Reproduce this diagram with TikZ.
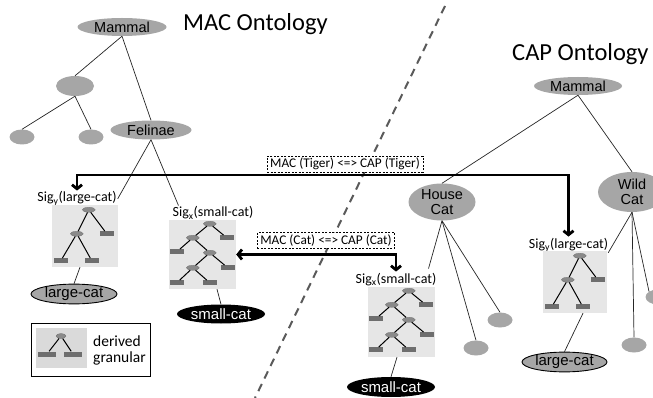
\documentclass[tikz,border=0pt]{standalone}
\usepackage{fontspec}
\setmainfont{Liberation Sans}
\newfontfamily\carl{Carlito}
\usetikzlibrary{shapes.geometric,arrows.meta,calc}
\definecolor{ell}{HTML}{A6A6A6}
\definecolor{minibg}{HTML}{E6E6E6}
\definecolor{legbg}{HTML}{DADADA}
\definecolor{mnode}{HTML}{8A8A8A}
\definecolor{mnodeD}{HTML}{6E6E6E}
\definecolor{dashc}{HTML}{5A5A5A}
\begin{document}
\begin{tikzpicture}[x=1pt,y=-1pt,
  ont/.style={ellipse, fill=ell, inner sep=0pt, font=\fontsize{14.5}{15}\selectfont},
  leaf/.style={ellipse, fill=ell, inner sep=0pt, minimum width=25pt, minimum height=15pt},
  catnode/.style={ellipse, fill=ell, draw=black, line width=0.9pt, inner sep=0pt, font=\fontsize{15}{16}\selectfont},
  smallcat/.style={ellipse, fill=black, text=white, inner sep=0pt, font=\fontsize{15}{16}\selectfont},
  titletxt/.style={inner sep=0pt, font=\carl\fontsize{24.5}{28}\selectfont},
  siglbl/.style={inner sep=1pt, font=\carl\fontsize{14}{15}\selectfont},
  legtxt/.style={inner sep=0pt, font=\carl\fontsize{15.5}{16}\selectfont},
  minibox/.style={rectangle, fill=minibg, inner sep=0pt},
  mininode/.style={ellipse, fill=mnode, draw=mnodeD, line width=0.3pt, minimum width=13pt, minimum height=5pt, inner sep=0pt},
  minirect/.style={rectangle, fill=mnodeD, minimum width=14pt, minimum height=5pt, inner sep=0pt},
  miniedge/.style={line width=1pt, black},
  treeline/.style={line width=0.7pt, black!85},
  bigarrow/.style={line width=2.8pt, black, {Straight Barb[length=4pt,width=10pt]}-{Straight Barb[length=4pt,width=10pt]}},
  lblbox/.style={draw, dashed, dash pattern=on 2pt off 1.5pt, line width=0.6pt, fill=white, inner xsep=3pt, inner ysep=2pt, font=\carl\fontsize{13.3}{14}\selectfont},
  dashline/.style={line width=2pt, dashc, dash pattern=on 8pt off 6pt},
  largetree/.pic={
    \node[mininode] (-r) at (37,5) {};
    \node[mininode] (-a) at (25,29) {};
    \node[minirect] (-b) at (55,29) {};
    \node[minirect] (-c) at (9,56) {};
    \node[minirect] (-d) at (40,56) {};
    \draw[miniedge] (-r) -- (-a);
    \draw[miniedge] (-r) -- (-b);
    \draw[miniedge] (-a) -- (-c);
    \draw[miniedge] (-a) -- (-d);
  },
  smalltree/.pic={
    \node[mininode] (-r) at (41,4) {};
    \node[mininode] (-a) at (24,18) {};
    \node[minirect] (-b) at (58,18) {};
    \node[minirect] (-c) at (8,32) {};
    \node[mininode] (-d) at (41,33) {};
    \node[minirect] (-e) at (59,48) {};
    \node[mininode] (-f) at (24,48) {};
    \node[minirect] (-g) at (8,63) {};
    \node[minirect] (-h) at (41,63) {};
    \draw[miniedge] (-r) -- (-a);
    \draw[miniedge] (-r) -- (-b);
    \draw[miniedge] (-a) -- (-c);
    \draw[miniedge] (-a) -- (-d);
    \draw[miniedge] (-d) -- (-e);
    \draw[miniedge] (-d) -- (-f);
    \draw[miniedge] (-f) -- (-g);
    \draw[miniedge] (-f) -- (-h);
  }]
\useasboundingbox (0,0) rectangle (653,398);
\fill[white] (0,0) rectangle (653,398);

% divider
\coordinate (dTop) at (445,6);
\coordinate (dBot) at (255,398);
\draw[dashline] (dTop) -- (dBot);

% ---------- MAC ontology ----------
\node[titletxt, anchor=base west] (macTitle) at (183,31) {MAC Ontology};
\node[ont, minimum width=89pt, minimum height=18pt] (mMammal) at (122,27) {Mammal};
\node[ont, minimum width=38pt, minimum height=20pt] (mBlank) at (75,86) {};
\node[leaf] (mLeafA) at (22,137) {};
\node[leaf] (mLeafB) at (91,137) {};
\node[ont, minimum width=81pt, minimum height=19pt] (mFelinae) at (151,130) {Felinae};

\node[siglbl, anchor=base] (mSigY) at (77,202) {Sig\textsubscript{y}(large-cat)};
\node[minibox, minimum width=66pt, minimum height=62pt] (mBoxY) at (85,236) {};
\pic (mTreeY) at (mBoxY.north west) {largetree};
\node[catnode, minimum width=86pt, minimum height=18pt] (mLarge) at (74,294) {large-cat};

\node[siglbl, anchor=base] (mSigX) at (213,217) {Sig\textsubscript{x}(small-cat)};
\node[minibox, minimum width=67pt, minimum height=69pt] (mBoxX) at (202.5,254.5) {};
\pic (mTreeX) at (mBoxX.north west) {smalltree};
\node[smallcat, minimum width=88pt, minimum height=19pt] (mSmall) at (221,314) {small-cat};

\draw[treeline] (mMammal.south) -- (mBlank.north);
\draw[treeline] (mMammal.south) -- (mFelinae.north);
\draw[treeline] (mBlank.south) -- (mLeafA.north);
\draw[treeline] (mBlank.south) -- (mLeafB.north);
\draw[treeline] (mFelinae.south) -- (mSigY.east);
\draw[treeline] (mFelinae.south) -- ($(mSigX.north west)+(7,0)$);
\draw[treeline] ([xshift=-5pt]mBoxY.south) -- (mLarge.north);
\draw[treeline] ([xshift=14.5pt]mBoxX.south) -- (mSmall.north);

% legend
\node[draw, line width=0.8pt, minimum width=119pt, minimum height=53pt, inner sep=0pt] (legend) at (90.5,349.5) {};
\node[minibox, fill=legbg, minimum width=51pt, minimum height=40pt] (legImg) at (61.5,348) {};
\node[mininode, minimum width=10pt] (legRoot) at (61,336) {};
\node[minirect, minimum width=18pt] (legA) at (47,354) {};
\node[minirect, minimum width=18pt] (legB) at (73,354) {};
\draw[miniedge] (legRoot) -- (legA);
\draw[miniedge] (legRoot) -- (legB);
\node[legtxt, anchor=base west] (legT1) at (93,346) {derived};
\node[legtxt, anchor=base west] (legT2) at (93,362) {granular};

% ---------- CAP ontology ----------
\node[titletxt, anchor=base west] (capTitle) at (512,61) {CAP Ontology};
\node[ont, minimum width=88pt, minimum height=18pt] (cMammal) at (578,86) {Mammal};
\node[ont, align=center, minimum width=67pt, minimum height=37pt, inner ysep=-2pt] (cHouse) at (442,202) {House\\Cat};
\node[ont, align=center, minimum width=68pt, minimum height=40pt, inner ysep=-2pt] (cWild) at (632,192) {Wild\\Cat};
\node[leaf] (cLeafA) at (476,348) {};
\node[leaf] (cLeafB) at (500,320) {};
\node[leaf] (cLeafC) at (634,345) {};
\node[leaf] (cLeafD) at (658,297) {};

\node[siglbl, anchor=base] (cSigX) at (396,283) {Sig\textsubscript{x}(small-cat)};
\node[minibox, minimum width=67pt, minimum height=70pt] (cBoxX) at (401.5,322) {};
\pic (cTreeX) at (cBoxX.north west) {smalltree};
\node[smallcat, minimum width=88pt, minimum height=20pt] (cSmall) at (391,387) {small-cat};

\node[siglbl, anchor=base] (cSigY) at (568.5,248) {Sig\textsubscript{y}(large-cat)};
\node[minibox, minimum width=64pt, minimum height=62pt] (cBoxY) at (575,282) {};
\pic (cTreeY) at (cBoxY.north west) {largetree};
\node[catnode, minimum width=85pt, minimum height=17pt] (cLarge) at (564.5,362) {large-cat};

\draw[treeline] (cMammal.south) -- (cHouse.north);
\draw[treeline] (cMammal.south) -- (cWild.north);
\draw[treeline] (cHouse.south) -- ($(cSigX.north east)+(-9,-3)$);
\draw[treeline] (cHouse.south) -- (cLeafA.north);
\draw[treeline] (cHouse.south) -- (cLeafB.north);
\draw[treeline] (cWild.south) -- ($(cBoxY.north east)+(1,2)$);
\draw[treeline] (cWild.south) -- (cLeafC.north);
\draw[treeline] (cWild.south) -- (cLeafD.north west);
\draw[treeline] ([xshift=-4.5pt]cBoxX.south) -- (cSmall.north);
\draw[treeline] ([xshift=8pt]cBoxY.south) -- (cLarge.north);

% ---------- mappings ----------
\coordinate (tigerL) at (77,175);
\draw[bigarrow] (mSigY.north) -- (tigerL) -| (cSigY.north);
\draw[bigarrow] (cSigX.north) |- (mBoxX.east);
\node[lblbox] (tigerLbl) at (345,164) {MAC (Tiger) <=> CAP (Tiger)};
\node[lblbox] (catLbl) at (326,240.5) {MAC (Cat) <=> CAP (Cat)};
\end{tikzpicture}
\end{document}
